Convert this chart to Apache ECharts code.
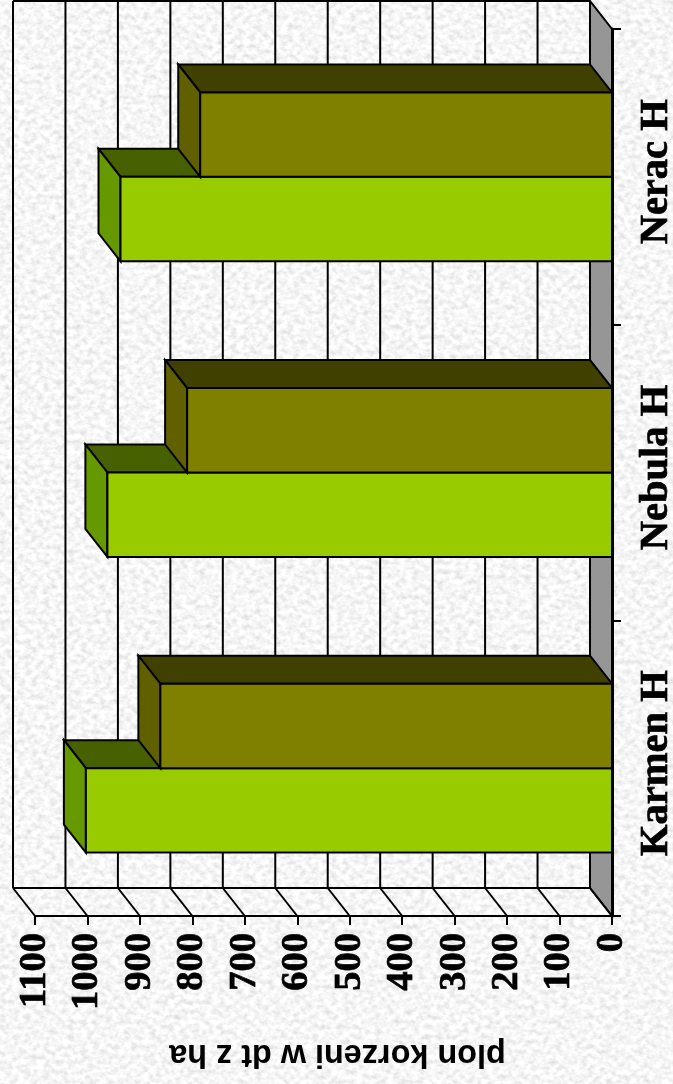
<!DOCTYPE html>
<html><head><meta charset="utf-8">
<style>
html,body{margin:0;padding:0;width:673px;height:1084px;overflow:hidden;background:#e6e6e6}
#bg{position:absolute;left:0;top:0;width:673px;height:1084px}
#chart{position:absolute;left:0;top:0;width:673px;height:1084px}
</style>
<script src="https://cdn.jsdelivr.net/npm/echarts@6/dist/echarts.min.js"></script>
</head><body>
<svg id="bg" xmlns="http://www.w3.org/2000/svg"><filter id="n" x="0" y="0" width="100%" height="100%"><feTurbulence type="fractalNoise" baseFrequency="0.16 0.2" numOctaves="5" seed="7"/><feColorMatrix type="matrix" values="0.5 0 0 0 0.67  0.5 0 0 0 0.67  0.5 0 0 0 0.67  0 0 0 0 1"/></filter><rect width="673" height="1084" filter="url(#n)"/></svg>
<div id="chart"></div>
<script>
const categories = ['Karmen H', 'Nebula H', 'Nerac H'];
const seriesA = [1003, 962, 937];
const seriesB = [861, 810, 785];
const valueTicks = [0, 100, 200, 300, 400, 500, 600, 700, 800, 900, 1000, 1100];
const axisTitle = 'plon korzeni w dt z ha';

const DX = 22, DY = 28, BAR_FRAC = 0.2855;
const LINE = { stroke: '#000', lineWidth: 2 };
const poly = (pts, fill) => ({ type: 'polygon', shape: { points: pts }, style: Object.assign({ fill: fill }, LINE) });
const seg = (a, b) => ({ type: 'line', shape: { x1: a[0], y1: a[1], x2: b[0], y2: b[1] }, style: { stroke: '#000', lineWidth: 2 } });

function wallItem(params, api) {
  const cs = params.coordSys;
  const x = api.coord([api.value(0), 0])[0];
  const yb = cs.y + cs.height, yt = cs.y;
  const kids = [
    seg([x, yb], [x - DX, yb - DY]),
    seg([x - DX, yb - DY], [x - DX, yt - DY])
  ];
  if (api.value(0) === 0) {
    kids.unshift(poly([[x, yb], [x - DX, yb - DY], [x - DX, yt - DY], [x, yt]], '#969696'));
    kids.push(seg([cs.x - DX, yb - DY], [x - DX, yb - DY]));
    kids.push(seg([cs.x - DX, yt - DY], [x - DX, yt - DY]));
  }
  return { type: 'group', children: kids };
}

function barItem(colors, side) {
  return function (params, api) {
    const p = api.coord([api.value(0), api.value(1)]);
    const o = api.coord([0, api.value(1)]);
    const h = api.size([0, 1])[1] * BAR_FRAC;
    const y1 = side > 0 ? p[1] : p[1] - h;
    const y2 = y1 + h;
    const x = p[0], x0 = o[0];
    return {
      type: 'group',
      children: [
        poly([[x, y1], [x - DX, y1 - DY], [x0 - DX, y1 - DY], [x0, y1]], colors[2]),
        poly([[x, y1], [x, y2], [x - DX, y2 - DY], [x - DX, y1 - DY]], colors[1]),
        poly([[x, y1], [x0, y1], [x0, y2], [x, y2]], colors[0])
      ]
    };
  };
}

const chart = echarts.init(document.getElementById('chart'), null, { renderer: 'canvas' });
chart.setOption({
  animation: false,
  backgroundColor: 'transparent',
  grid: { left: 35, right: 61, top: 29, bottom: 168, outerBoundsMode: 'none', containLabel: false },
  xAxis: {
    type: 'value', inverse: true, min: 0, max: 1100, interval: 100, position: 'bottom',
    splitLine: { show: false },
    axisLine: { show: true, onZero: false, lineStyle: { color: '#000', width: 2 } },
    axisTick: { show: true, length: 9, lineStyle: { color: '#000', width: 2 } },
    axisLabel: { rotate: 90, margin: 17, padding: [10, 0, 0, 0], verticalAlign: 'middle', formatter: v => String(v), color: '#000', fontFamily: 'Liberation Serif', fontWeight: 'bold', fontSize: 38.5, textBorderColor: '#000', textBorderWidth: 0.7 }
  },
  yAxis: {
    type: 'category', data: categories, position: 'right',
    axisLine: { show: true, onZero: false, lineStyle: { color: '#000', width: 3 } },
    axisTick: { show: true, length: 9, lineStyle: { color: '#000', width: 2 } },
    axisLabel: { rotate: 90, margin: 45, padding: [3, 0, 0, 10], color: '#000', fontFamily: 'Liberation Serif', fontWeight: 'bold', fontSize: 40.5, align: 'center', verticalAlign: 'middle', textBorderColor: '#000', textBorderWidth: 0.7 },
    z: 5
  },
  graphic: [{
    type: 'text', x: 337.5, y: 1054, rotation: Math.PI,
    style: { text: axisTitle, align: 'center', verticalAlign: 'middle', fill: '#000', font: 'bold 32.4px "Liberation Sans"' }
  }],
  series: [
    { type: 'custom', clip: false, z: 1, renderItem: wallItem, data: valueTicks.map(v => [v]), encode: { x: 0 }, silent: true },
    { type: 'custom', clip: false, z: 2, renderItem: barItem(['#99CC00', '#669900', '#476000'], 1),
      data: seriesA.map((v, i) => [v, i]), encode: { x: 0, y: 1 } },
    { type: 'custom', clip: false, z: 3, renderItem: barItem(['#808000', '#606000', '#404000'], -1),
      data: seriesB.map((v, i) => [v, i]), encode: { x: 0, y: 1 } }
  ]
});
</script>
</body></html>
